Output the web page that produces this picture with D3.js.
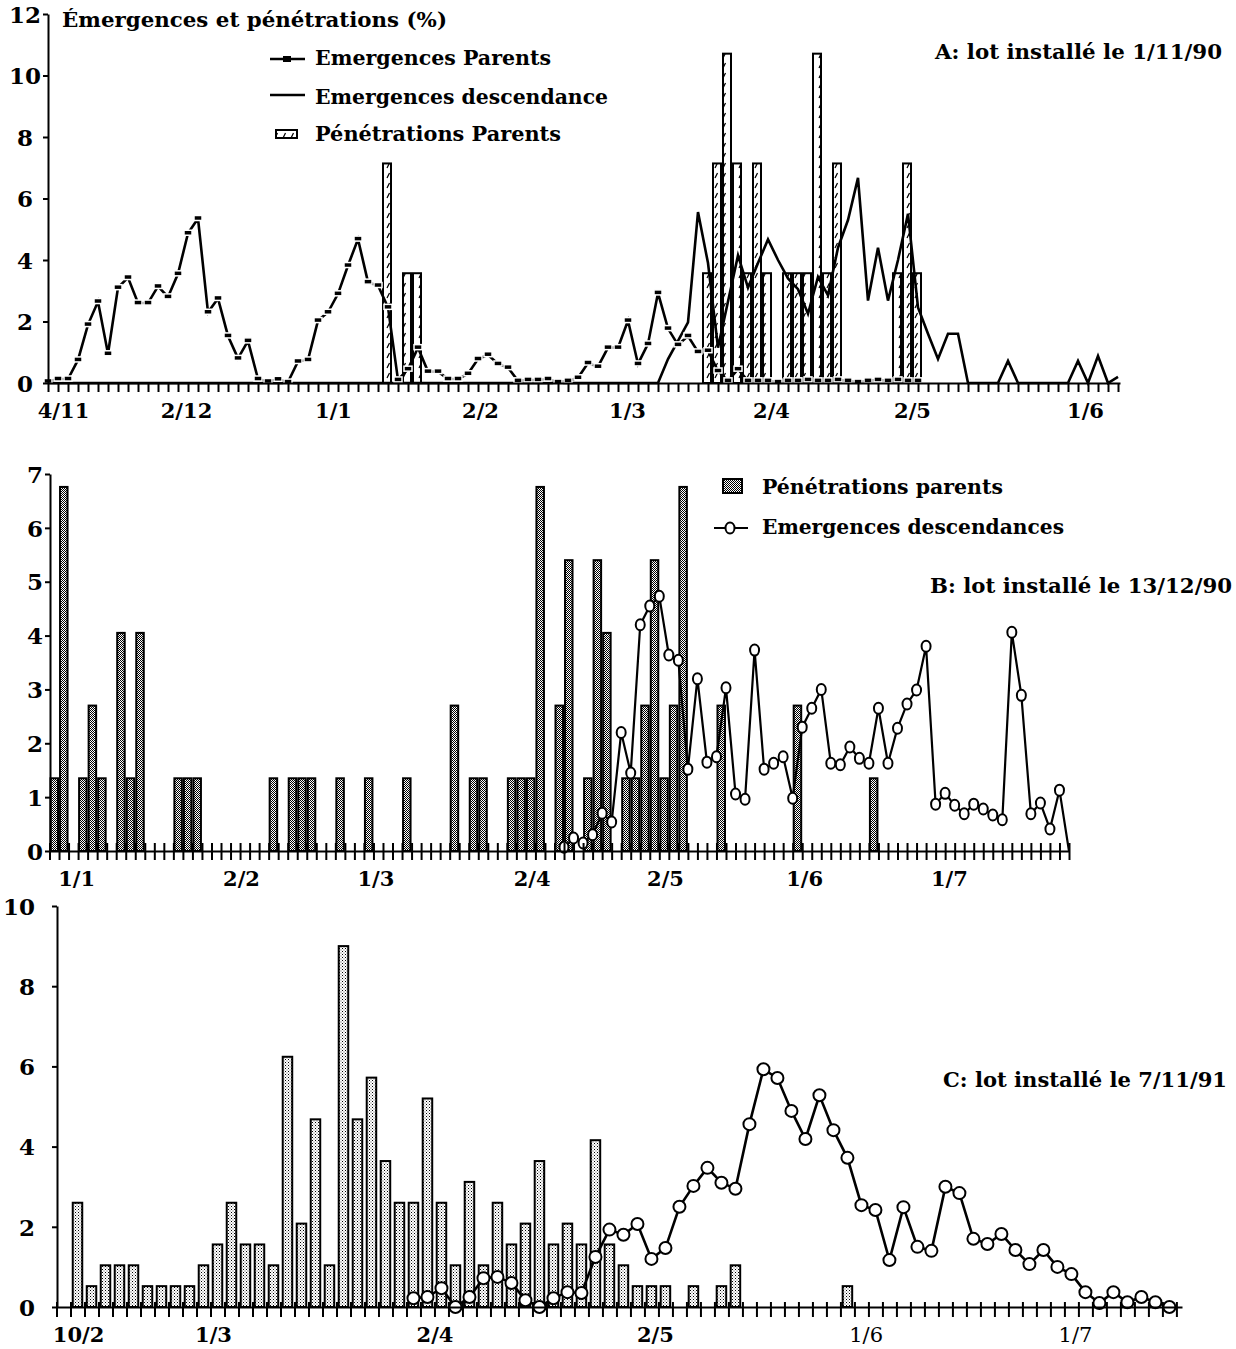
<!DOCTYPE html>
<html>
<head>
<meta charset="utf-8">
<script src="https://cdn.jsdelivr.net/npm/d3@7"></script>
<style>
  body { margin: 0; background: #fff; }
  text { font-family: 'DejaVu Serif', serif; font-weight: bold; fill: #000; }
</style>
</head>
<body>
<svg id="chart"></svg>
<script>
// ---- panel A : lot installé le 1/11/90 (one value per tick, ~2 days)
const aParents = [
  0.05, 0.13, 0.13, 0.75, 1.9, 2.65, 0.95, 3.1, 3.43, 2.6,
  2.6, 3.14, 2.8, 3.55, 4.87, 5.35, 2.3, 2.75, 1.53, 0.8,
  1.37, 0.13, 0.05, 0.12, 0.03, 0.7, 0.75, 2.03, 2.3, 2.9,
  3.82, 4.68, 3.28, 3.17, 2.46, 0.1, 0.45, 1.15, 0.37, 0.37,
  0.13, 0.13, 0.3, 0.78, 0.92, 0.62, 0.5, 0.07, 0.1, 0.1,
  0.13, 0.03, 0.07, 0.17, 0.65, 0.53, 1.15, 1.15, 2.03, 0.62,
  1.27, 2.93, 1.77, 1.24, 1.53, 1.01, 1.05, 0.39, 0.07, 0.45,
  0.07, 0.07, 0.07, 0.03, 0.07, 0.07, 0.1, 0.07, 0.07, 0.1,
  0.07, 0.03, 0.07, 0.1, 0.07, 0.1, 0.07, 0.07
];
const aDescend = [
  0, 0, 0, 0, 0, 0, 0, 0, 0, 0,
  0, 0, 0, 0, 0, 0, 0, 0, 0, 0,
  0, 0, 0, 0, 0, 0, 0, 0, 0, 0,
  0, 0, 0, 0, 0, 0, 0, 0, 0, 0,
  0, 0, 0, 0, 0, 0, 0, 0, 0, 0,
  0, 0, 0, 0, 0, 0, 0, 0, 0, 0,
  0, 0, 0.78, 1.37, 1.97, 5.56, 3.9, 1.15, 2.65, 4.15,
  3.1, 3.9, 4.67, 4.0, 3.4, 3.05, 2.25, 3.45, 2.85, 4.4,
  5.3, 6.67, 2.68, 4.4, 2.68, 4.0, 5.5, 2.46, 1.6, 0.78,
  1.6, 1.6, 0, 0, 0, 0, 0.72, 0, 0, 0,
  0, 0, 0, 0.72, 0, 0.88, 0, 0.2
];
const aPenIdx = [34, 36, 37, 66, 67, 68, 69, 70, 71, 72, 74, 75, 76, 77, 78, 79, 85, 86, 87];
const aPenVal = [7.14, 3.57, 3.57, 3.57, 7.14, 10.71, 7.14, 3.57, 7.14, 3.57, 3.57, 3.57, 3.57, 10.71, 3.57, 7.14, 3.57, 7.14, 3.57];
const aTickIdx = [1.5, 13.8, 28.5, 43.2, 57.9, 72.3, 86.4, 103.7];
const aTickLabels = ['4/11', '2/12', '1/1', '2/2', '1/3', '2/4', '2/5', '1/6'];

// ---- panel B : lot installé le 13/12/90
const bPenIdx = [0, 1, 3, 4, 5, 7, 8, 9, 13, 14, 15, 23, 25, 26, 27, 30, 33, 37, 42, 44,
  45, 48, 49, 50, 51, 53, 54, 56, 57, 58, 60, 61, 62, 63, 64, 65, 66, 70, 78, 86];
const bPenVal = [1.35, 6.76, 1.35, 2.7, 1.35, 4.05, 1.35, 4.05, 1.35, 1.35, 1.35, 1.35, 1.35, 1.35, 1.35, 1.35, 1.35, 1.35, 2.7, 1.35,
  1.35, 1.35, 1.35, 1.35, 6.76, 2.7, 5.4, 1.35, 5.4, 4.05, 1.35, 1.35, 2.7, 5.4, 1.35, 2.7, 6.76, 2.7, 2.7, 1.35];
const bDescStart = 54;
const bDesc = [
  0.07, 0.24, 0.15, 0.3, 0.7, 0.54, 2.2, 1.45, 4.2, 4.55,
  4.73, 3.64, 3.54, 1.52, 3.2, 1.65, 1.75, 3.03, 1.06, 0.96,
  3.73, 1.52, 1.63, 1.75, 0.98, 2.3, 2.65, 3.0, 1.63, 1.6,
  1.93, 1.72, 1.63, 2.65, 1.63, 2.28, 2.73, 2.99, 3.8, 0.87,
  1.07, 0.85, 0.69, 0.87, 0.78, 0.67, 0.58, 4.06, 2.89, 0.69,
  0.89, 0.41, 1.13, 0
];
const bTickIdx = [2.8, 20.1, 34.2, 50.6, 64.6, 79.2, 94.4];
const bTickLabels = ['1/1', '2/2', '1/3', '2/4', '2/5', '1/6', '1/7'];

// ---- panel C : lot installé le 7/11/91
const cPenIdx = [1, 2, 3, 4, 5, 6, 7, 8, 9, 10, 11, 12, 13, 14, 15, 16, 17, 18, 19, 20,
  21, 22, 23, 24, 25, 26, 27, 28, 29, 30, 31, 32, 33, 34, 35, 36, 37, 38, 39, 40,
  41, 42, 43, 45, 47, 48, 56];
const cPenVal = [2.6, 0.52, 1.04, 1.04, 1.04, 0.52, 0.52, 0.52, 0.52, 1.04,
  1.56, 2.6, 1.56, 1.56, 1.04, 6.24, 2.08, 4.68, 1.04, 9.0,
  4.68, 5.72, 3.64, 2.6, 2.6, 5.2, 2.6, 1.04, 3.12, 1.04,
  2.6, 1.56, 2.08, 3.64, 1.56, 2.08, 1.56, 4.16, 1.56, 1.04,
  0.52, 0.52, 0.52, 0.52, 0.52, 1.04, 0.52];
const cDescStart = 25;
const cDesc = [
  0.22, 0.25, 0.47, 0, 0.25, 0.72, 0.75, 0.6, 0.17, 0,
  0.22, 0.37, 0.35, 1.25, 1.93, 1.8, 2.07, 1.2, 1.47, 2.5,
  3.02, 3.47, 3.1, 2.95, 4.56, 5.93, 5.71, 4.89, 4.19, 5.28,
  4.41, 3.72, 2.54, 2.42, 1.17, 2.49, 1.5, 1.4, 3.0, 2.84,
  1.7, 1.57, 1.82, 1.42, 1.07, 1.42, 1.0, 0.82, 0.37, 0.1,
  0.37, 0.12, 0.25, 0.12, 0.0
];
const cTickIdx = [1.54, 11.18, 27.0, 42.75, 57.8, 72.75];
const cTickLabels = ['10/2', '1/3', '2/4', '2/5', '1/6', '1/7'];

const width = 1236;
const height = 1349;
const svg = d3.select('#chart').attr('width', width).attr('height', height);

// fill patterns
const defs = svg.append('defs');
const hatch = defs.append('pattern').attr('id', 'hatch')
  .attr('patternUnits', 'userSpaceOnUse').attr('width', 8).attr('height', 10);
hatch.append('rect').attr('width', 8).attr('height', 10).attr('fill', '#fff');
hatch.append('path').attr('d', 'M3,8 L5.5,3').attr('stroke', '#000').attr('stroke-width', 1.2);

const dark = defs.append('pattern').attr('id', 'dark')
  .attr('patternUnits', 'userSpaceOnUse').attr('width', 2).attr('height', 2);
dark.append('rect').attr('width', 2).attr('height', 2).attr('fill', '#fff');
dark.append('rect').attr('width', 1).attr('height', 1).attr('fill', '#000');
dark.append('rect').attr('x', 1).attr('y', 1).attr('width', 1).attr('height', 1).attr('fill', '#000');

const light = defs.append('pattern').attr('id', 'light')
  .attr('patternUnits', 'userSpaceOnUse').attr('width', 3).attr('height', 3);
light.append('rect').attr('width', 3).attr('height', 3).attr('fill', '#fff');
light.append('rect').attr('width', 1).attr('height', 1).attr('fill', '#000');
light.append('rect').attr('x', 1.5).attr('y', 1.5).attr('width', 1).attr('height', 1).attr('fill', '#555');

const styleAxis = (g, size, weight) => {
  g.attr('font-family', 'DejaVu Serif').attr('font-size', size).attr('font-weight', weight);
  g.select('.domain').attr('stroke-width', 2);
  g.selectAll('.tick line').attr('stroke-width', 2);
};

const drawXAxis = (x, y0, nTicks, up, down, tickIdx, tickLabels, weightOf) => {
  svg.append('g')
    .attr('transform', 'translate(0,' + y0 + ')')
    .call(d3.axisBottom(x).tickValues(d3.range(0, nTicks + 1)).tickSizeOuter(0).tickFormat(''))
    .call((g) => styleAxis(g, 21, 'bold'))
    .call((g) => g.selectAll('.tick line').attr('y1', -up).attr('y2', down));

  svg.append('g')
    .attr('transform', 'translate(0,' + y0 + ')')
    .call(d3.axisBottom(x).tickValues(tickIdx).tickSize(0)
      .tickFormat((d) => tickLabels[tickIdx.indexOf(d)]))
    .call((g) => g.select('.domain').remove())
    .call((g) => g.attr('font-family', 'DejaVu Serif').attr('font-size', 21))
    .call((g) => g.selectAll('text').attr('y', 35).attr('dy', 0)
      .style('font-weight', (d, i) => weightOf(i)));
};

const drawYAxis = (y, x0, ticks, labelX, anchor) => {
  svg.append('g')
    .attr('transform', 'translate(' + x0 + ',0)')
    .call(d3.axisLeft(y).tickValues(ticks).tickSize(5).tickSizeOuter(0).tickFormat(d3.format('d')))
    .call((g) => styleAxis(g, 23, 'bold'))
    .call((g) => g.selectAll('text').attr('x', labelX - x0).attr('text-anchor', anchor).attr('dy', '0.36em'));
};

// ================= PANEL A =================
const drawPanelA = () => {
  const xA = d3.scaleLinear().domain([0, 107.2]).range([48, 1120]);
  const yA = d3.scaleLinear().domain([0, 12]).range([383, 14]);

  svg.append('g').selectAll('rect').data(aPenIdx).join('rect')
    .attr('x', (d) => xA(d) - 5)
    .attr('width', 8)
    .attr('y', (d, i) => yA(aPenVal[i]))
    .attr('height', (d, i) => yA(0) - yA(aPenVal[i]))
    .attr('fill', 'url(#hatch)')
    .attr('stroke', '#000')
    .attr('stroke-width', 2);

  const line = d3.line().x((d, i) => xA(i)).y((d) => yA(d));
  svg.append('path').datum(aDescend).attr('d', line)
    .attr('fill', 'none').attr('stroke', '#000').attr('stroke-width', 2.6).attr('stroke-linejoin', 'miter');
  svg.append('path').datum(aParents).attr('d', line)
    .attr('fill', 'none').attr('stroke', '#000').attr('stroke-width', 2.6);
  svg.append('g').selectAll('rect').data(aParents).join('rect')
    .attr('x', (d, i) => xA(i) - 4)
    .attr('y', (d) => yA(d) - 3)
    .attr('width', 8)
    .attr('height', 5)
    .attr('fill', '#000')
    .attr('stroke', '#fff')
    .attr('stroke-width', 1.5);

  drawXAxis(xA, 383, 107, 0, 9, aTickIdx, aTickLabels, () => 'bold');
  drawYAxis(yA, 48, d3.range(0, 13, 2), 25, 'middle');

  // legend and titles
  svg.append('text').attr('x', 62).attr('y', 27).attr('font-size', 21)
    .attr('textLength', 385).attr('lengthAdjust', 'spacingAndGlyphs')
    .text('Émergences et pénétrations (%)');
  svg.append('text').attr('x', 1222).attr('y', 59).attr('font-size', 21).attr('text-anchor', 'end')
    .attr('textLength', 287).attr('lengthAdjust', 'spacingAndGlyphs')
    .text('A: lot installé le 1/11/90');

  svg.append('line').attr('x1', 270).attr('x2', 305).attr('y1', 59).attr('y2', 59)
    .attr('stroke', '#000').attr('stroke-width', 2.6);
  svg.append('rect').attr('x', 283).attr('y', 56).attr('width', 8).attr('height', 6).attr('fill', '#000');
  svg.append('line').attr('x1', 270).attr('x2', 305).attr('y1', 95).attr('y2', 95)
    .attr('stroke', '#000').attr('stroke-width', 2.6);
  svg.append('rect').attr('x', 276).attr('y', 130).attr('width', 21).attr('height', 8)
    .attr('fill', 'url(#hatch)').attr('stroke', '#000').attr('stroke-width', 2);

  const legA = [['Emergences Parents', 65, 236], ['Emergences descendance', 104, 293], ['Pénétrations Parents', 141, 246]];
  legA.forEach(([t, y, w]) => {
    svg.append('text').attr('x', 315).attr('y', y).attr('font-size', 21)
      .attr('textLength', w).attr('lengthAdjust', 'spacingAndGlyphs').text(t);
  });
};

// ================= PANEL B =================
const drawPanelB = () => {
  const xB = d3.scaleLinear().domain([0, 107]).range([49.5, 1069]);
  const yB = d3.scaleLinear().domain([0, 7]).range([851, 474]);

  svg.append('g').selectAll('rect').data(bPenIdx).join('rect')
    .attr('x', (d) => xB(d + 0.5) - 3.75)
    .attr('width', 7.5)
    .attr('y', (d, i) => yB(bPenVal[i]))
    .attr('height', (d, i) => yB(0) - yB(bPenVal[i]))
    .attr('fill', 'url(#dark)')
    .attr('stroke', '#000')
    .attr('stroke-width', 2);

  const line = d3.line().x((d, i) => xB(bDescStart + i)).y((d) => yB(d));
  svg.append('path').datum(bDesc).attr('d', line)
    .attr('fill', 'none').attr('stroke', '#000').attr('stroke-width', 2.2);
  svg.append('g').selectAll('ellipse').data(bDesc.slice(0, -1)).join('ellipse')
    .attr('cx', (d, i) => xB(bDescStart + i))
    .attr('cy', (d) => yB(d))
    .attr('rx', 4.5)
    .attr('ry', 5.5)
    .attr('fill', '#fff')
    .attr('stroke', '#000')
    .attr('stroke-width', 2);

  drawXAxis(xB, 851, 107, 8, 9, bTickIdx, bTickLabels, () => 'bold');
  drawYAxis(yB, 50, d3.range(0, 8), 43, 'end');

  svg.append('rect').attr('x', 723).attr('y', 479).attr('width', 19).attr('height', 14)
    .attr('fill', 'url(#dark)').attr('stroke', '#000').attr('stroke-width', 2);
  svg.append('line').attr('x1', 714).attr('x2', 748).attr('y1', 528).attr('y2', 528)
    .attr('stroke', '#000').attr('stroke-width', 2.2);
  svg.append('ellipse').attr('cx', 730).attr('cy', 528).attr('rx', 4.5).attr('ry', 5.5)
    .attr('fill', '#fff').attr('stroke', '#000').attr('stroke-width', 2);

  svg.append('text').attr('x', 762).attr('y', 494).attr('font-size', 21)
    .attr('textLength', 241).attr('lengthAdjust', 'spacingAndGlyphs').text('Pénétrations parents');
  svg.append('text').attr('x', 762).attr('y', 534).attr('font-size', 21)
    .attr('textLength', 302).attr('lengthAdjust', 'spacingAndGlyphs').text('Emergences descendances');
  svg.append('text').attr('x', 1232).attr('y', 593).attr('font-size', 21).attr('text-anchor', 'end')
    .attr('textLength', 302).attr('lengthAdjust', 'spacingAndGlyphs').text('B: lot installé le 13/12/90');
};

// ================= PANEL C =================
const drawPanelC = () => {
  const xC = d3.scaleLinear().domain([0, 80.4]).range([56.5, 1182]);
  const yC = d3.scaleLinear().domain([0, 10]).range([1307, 906]);

  svg.append('g').selectAll('rect').data(cPenIdx).join('rect')
    .attr('x', (d) => xC(d + 0.5) - 4.75)
    .attr('width', 9.5)
    .attr('y', (d, i) => yC(cPenVal[i]))
    .attr('height', (d, i) => yC(0) - yC(cPenVal[i]))
    .attr('fill', 'url(#light)')
    .attr('stroke', '#000')
    .attr('stroke-width', 2);

  const line = d3.line().x((d, i) => xC(cDescStart + i + 0.5)).y((d) => yC(d));
  svg.append('path').datum(cDesc).attr('d', line)
    .attr('fill', 'none').attr('stroke', '#000').attr('stroke-width', 2.6);
  svg.append('g').selectAll('circle').data(cDesc).join('circle')
    .attr('cx', (d, i) => xC(cDescStart + i + 0.5))
    .attr('cy', (d) => yC(d))
    .attr('r', 6)
    .attr('fill', '#fff')
    .attr('stroke', '#000')
    .attr('stroke-width', 2);

  drawXAxis(xC, 1307, 80, 5, 10, cTickIdx, cTickLabels, (i) => (i >= 4 ? 'normal' : 'bold'));
  drawYAxis(yC, 57, d3.range(0, 11, 2), 35, 'end');

  svg.append('text').attr('x', 1227).attr('y', 1087).attr('font-size', 21).attr('text-anchor', 'end')
    .attr('textLength', 284).attr('lengthAdjust', 'spacingAndGlyphs').text('C: lot installé le 7/11/91');
};

drawPanelA();
drawPanelB();
drawPanelC();
</script>
</body>
</html>
